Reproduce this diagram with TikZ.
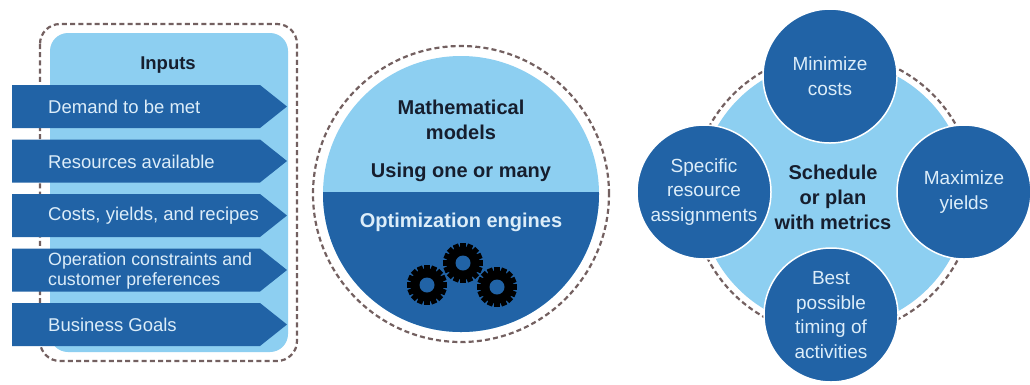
\documentclass[tikz,border=0pt]{standalone}
\usepackage{fontspec}
\setmainfont{Liberation Sans}
\usetikzlibrary{calc}
\definecolor{dblue}{RGB}{33,99,166}
\definecolor{lblue}{RGB}{141,207,241}
\definecolor{ltext}{RGB}{220,237,249}
\definecolor{dtext}{RGB}{22,30,46}
\definecolor{dashc}{RGB}{115,96,96}
\newcommand\mygear[3]{%
  \foreach \a in {0,22.5,...,170} {\fill[black, rotate around={\a:(#1,#2)}] (#1-2.8,#2-20) rectangle (#1+2.8,#2+20);}
  \node[circle, fill=black, minimum size=33pt, inner sep=0pt] (#3) at (#1,#2) {};
  \fill[dblue] (#1,#2) circle (7.5pt);}
\begin{document}
\begin{tikzpicture}[x=1pt,y=-1pt,
  dashline/.style={draw=dashc, line width=2.2pt, dash pattern=on 5pt off 3.2pt},
  arrtext/.style={anchor=west, text=ltext, font=\fontsize{18.5}{20}\selectfont, align=left, inner sep=0pt},
  arrbody/.style={fill=dblue},
  sat/.style={circle, fill=dblue, draw=white, line width=1.5pt, minimum size=134pt, text=ltext, align=center, font=\fontsize{19}{24.5}\selectfont, inner sep=0pt},
  darkbold/.style={text=dtext, align=center, font=\fontsize{20}{25}\selectfont\bfseries, inner sep=0pt},
  lightbold/.style={text=ltext, align=center, font=\fontsize{20}{24.5}\selectfont\bfseries, inner sep=0pt}]
\useasboundingbox (0,0) rectangle (1030,384);
\fill[white] (0,0) rectangle (1030,384);

% ---------- left panel ----------
\draw[dashline, rounded corners=20pt] (40,24) rectangle (297,361);
\fill[lblue, rounded corners=18pt] (50,33) rectangle (288,352);
\node[darkbold, font=\fontsize{18.5}{22}\selectfont\bfseries] (inputs) at (168,65) {Inputs};

\foreach \t/\nm/\txt in {85/a1/{Demand to be met}, 139.5/a2/{Resources available}, 194/a3/{Costs, yields, and recipes}, 303/a5/{Business Goals}}{
  \fill[arrbody] (12,\t) -- (260,\t) -- (287,\t+21.5) -- (260,\t+43) -- (12,\t+43) -- cycle;
  \node[arrtext] (\nm) at (48,\t+22) {\txt};
}
\fill[arrbody] (12,248.5) -- (260,248.5) -- (287,270) -- (260,291.5) -- (12,291.5) -- cycle;
\node[arrtext, font=\fontsize{17.8}{20}\selectfont] (a4) at (48,271) {Operation constraints and\\customer preferences};

% ---------- middle circle ----------
\draw[dashline] (461,194) circle (148pt);
\fill[lblue] (461,194) circle (138pt);
\begin{scope}
  \clip (300,192) rectangle (620,340);
  \fill[dblue] (461,194) circle (138pt);
\end{scope}
\node[darkbold] (math) at (461,120) {Mathematical\\models};
\node[darkbold] (using) at (461,172) {Using one or many};
\node[lightbold] (opt) at (461,222) {Optimization engines};
\mygear{427}{285}{g1}
\mygear{463}{263}{g2}
\mygear{497}{287}{g3}

% ---------- right cluster ----------
\fill[lblue] (833,194) circle (134pt);
\draw[dashline] (833,194) circle (141pt);
\node[sat] (min) at (830,76) {Minimize\\costs};
\node[sat] (spec) at (704,192) {Specific\\resource\\assignments};
\node[sat] (max) at (964,192) {Maximize\\yields};
\node[sat] (best) at (831,315) {Best\\possible\\timing of\\activities};
\node[darkbold] (sched) at (833,197) {Schedule\\or plan\\with metrics};
\end{tikzpicture}
\end{document}
